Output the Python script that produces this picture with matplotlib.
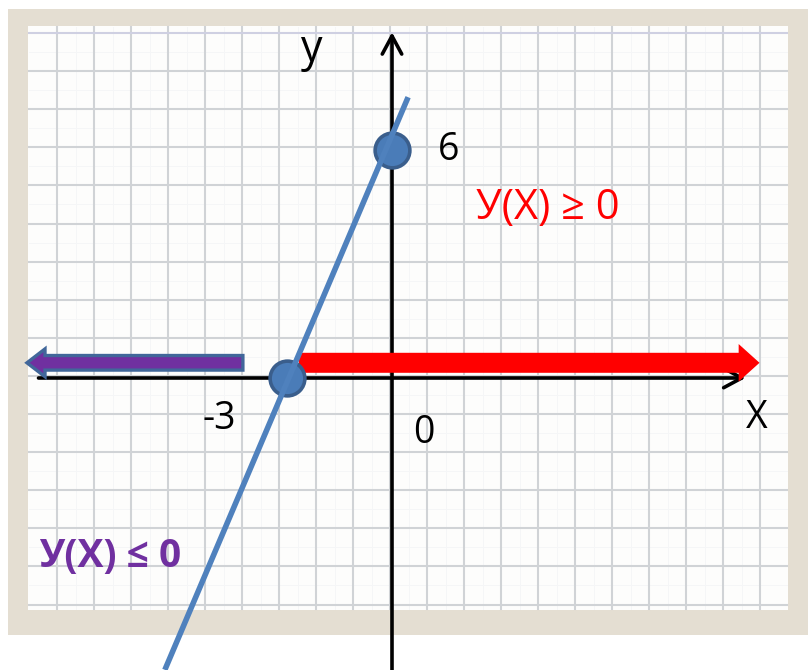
import numpy as np
import matplotlib
matplotlib.use("Agg")
import matplotlib.pyplot as plt
from matplotlib.patches import Rectangle, FancyArrowPatch, ArrowStyle

# ---------------- data ----------------
points_x = [-3, 0]            # marked points of y = 2x + 6
points_y = [0, 6]
line_x = [-6.49, 0.46]        # visible extent of the straight line
line_y = [-7.68, 7.39]
x_axis_range = [-10.1, 10.1]
y_axis_range = [-7.7, 9.1]
pos_range = [-2.66, 10.5]     # y(x) >= 0 region (red arrow)
neg_range = [-4.26, -10.43]   # y(x) <= 0 region (purple arrow)
arrow_level = 0.4
labels = {"y": "у", "x": "Х", "six": "6", "minus3": "-3", "zero": "0",
          "pos": "У(Х) ≥ 0", "neg": "У(Х) ≤ 0"}

FONT = ["Open Sans", "DejaVu Sans"]

fig = plt.figure(figsize=(8.08, 6.70), dpi=100)

# ---------------- background (pixel coordinates) ----------------
bg = fig.add_axes([0, 0, 1, 1])
bg.set_xlim(0, 808)
bg.set_ylim(670, 0)
bg.axis("off")
bg.add_patch(Rectangle((8, 9), 800, 626, facecolor="#E4DED2", edgecolor="none", zorder=0))
bg.add_patch(Rectangle((28, 26), 760, 584, facecolor="#FDFDFC", edgecolor="none", zorder=1))
vx = 57 + 37.0 * np.arange(20)
hy = 33 + 38.1 * np.arange(16)
for x in vx[:-1] + 18.5:
    bg.plot([x, x], [27, 609], color="#F5F6F7", lw=0.7, zorder=2)
for y in hy[:-1] + 19.05:
    bg.plot([29, 787], [y, y], color="#F5F6F7", lw=0.7, zorder=2)
for x in vx:
    bg.plot([x, x], [27, 609], color="#D0D3D6", lw=1.5, zorder=3)
for i, y in enumerate(hy):
    bg.plot([29, 787], [y, y], color="#CFD0E2" if i == 0 else "#D0D3D6", lw=1.5, zorder=3)

# ---------------- data axes ----------------
ax = fig.add_axes([0, 0, 1, 1])
ax.set_facecolor("none")
ax.set_xlim(-392 / 35, 416 / 35)
ax.set_ylim(-292 / 38, 378 / 38)
ax.axis("off")

# coordinate axes with open arrow heads
ax_style = ArrowStyle("->", head_length=13, head_width=7)
ax.add_patch(FancyArrowPatch((x_axis_range[0], 0), (x_axis_range[1], 0), arrowstyle=ax_style,
                             mutation_scale=1, lw=2.6, color="black", shrinkA=0, shrinkB=0, zorder=4))
ax.add_patch(FancyArrowPatch((0, y_axis_range[0]), (0, y_axis_range[1]), arrowstyle=ax_style,
                             mutation_scale=1, lw=2.6, color="black", shrinkA=0, shrinkB=0, zorder=4))

# region arrows
red_style = ArrowStyle("simple", head_length=15, head_width=27, tail_width=14.4)
ax.add_patch(FancyArrowPatch((pos_range[0], arrow_level), (pos_range[1], arrow_level), arrowstyle=red_style,
                             mutation_scale=1, lw=0, facecolor="#FF0000", edgecolor="none",
                             shrinkA=0, shrinkB=0, zorder=6))
pur_style = ArrowStyle("simple", head_length=13, head_width=20, tail_width=10.5)
ax.add_patch(FancyArrowPatch((neg_range[0], arrow_level), (neg_range[1], arrow_level), arrowstyle=pur_style,
                             mutation_scale=1, lw=2.4, facecolor="#7030A0", edgecolor="#41679A",
                             shrinkA=0, shrinkB=0, joinstyle="miter", zorder=6))

# points and line
ax.plot(points_x, points_y, "o", ms=25, mfc="#4A7CB8", mec="#3A5E8C", mew=2.6, zorder=7)
ax.plot(line_x, line_y, color="#4F81BD", lw=4.0, solid_capstyle="butt", zorder=8)

# ---------------- texts (pixel positions) ----------------
def txt(x, y, s, **kw):
    bg.text(x, y, s, ha="center", va="center", family=FONT, zorder=10, **kw)

txt(312, 50, labels["y"], fontsize=31, color="black")
txt(449, 150, labels["six"], fontsize=27, color="black")
txt(219, 419, labels["minus3"], fontsize=27, color="black")
txt(424, 433, labels["zero"], fontsize=27, color="black")
txt(757, 418, labels["x"], fontsize=27, color="black")
txt(548, 208, labels["pos"], fontsize=30, color="#FF0000")
txt(110, 556, labels["neg"], fontsize=28, color="#7030A0", fontweight="bold")

fig.savefig("out.png", dpi=100)
